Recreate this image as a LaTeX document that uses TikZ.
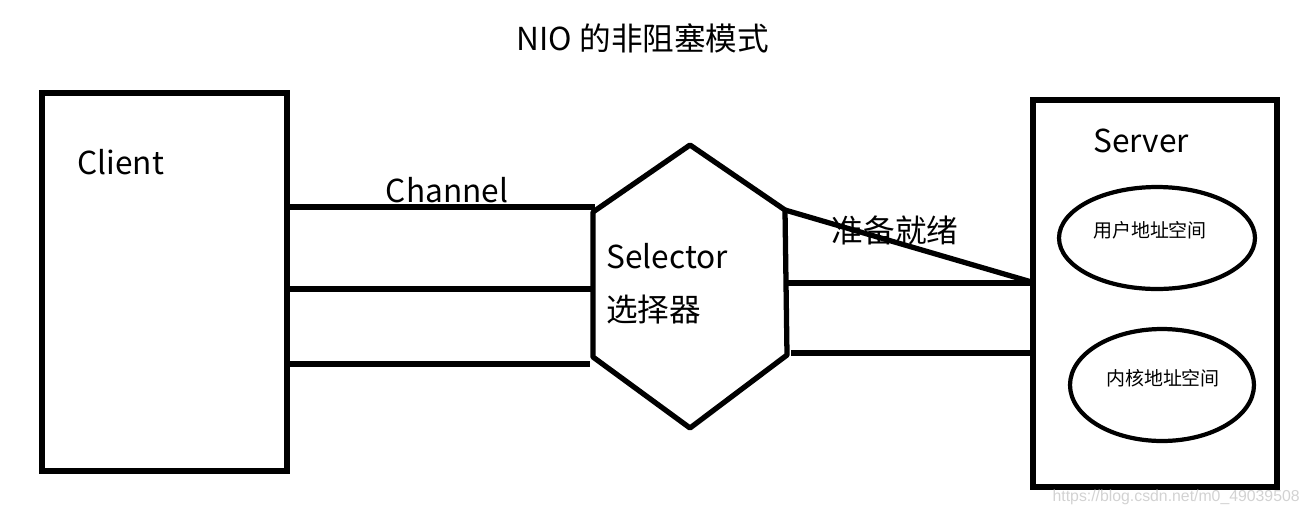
\documentclass[tikz,border=0pt]{standalone}
\usepackage{fontspec}
\setmainfont{Noto Sans CJK SC}
\newfontfamily\markfont{Liberation Sans}
\usetikzlibrary{positioning,shapes.geometric}
\tikzset{
  box/.style={draw,line width=3pt,inner sep=0pt},
  wire/.style={line width=3pt,line join=round},
  space/.style={draw,ellipse,line width=2.4pt,inner sep=0pt,font=\fontsize{10.8}{12}\selectfont},
  txt/.style={inner sep=0pt,font=\fontsize{18}{20}\selectfont}
}
\begin{document}
\begin{tikzpicture}[x=0.02cm,y=-0.02cm]
\useasboundingbox (0,0) rectangle (1309,515);
\node[txt] (title) at (643,38) {NIO 的非阻塞模式};
% client and server
\node[box,minimum width=4.9cm,minimum height=7.56cm] (client) at (164.5,282) {};
\node[box,minimum width=4.88cm,minimum height=7.74cm] (server) at (1155,293.5) {};
\node[txt,anchor=west] (clienttxt) at (77,162) {Client};
\node[txt] (servertxt) at (1141,141) {Server};
\node[space,minimum width=3.92cm,minimum height=2.04cm] (user) at (1157,238) {};
\node[space,minimum width=3.68cm,minimum height=2.24cm] (kernel) at (1162,385) {};
\node[inner sep=0pt,font=\fontsize{10.8}{12}\selectfont] (usertxt) at (1150,230) {用户地址空间};
\node[inner sep=0pt,font=\fontsize{10.8}{12}\selectfont] (kerneltxt) at (1163,378) {内核地址空间};
% selector
\coordinate (s1) at (690,145);
\coordinate (s2) at (785,210);
\coordinate (s3) at (787,355);
\coordinate (s4) at (690,428);
\coordinate (s5) at (593,357);
\coordinate (s6) at (593,212);
\draw[wire] (s1) -- (s2) -- (s3) -- (s4) -- (s5) -- (s6) -- cycle;
\node[txt,anchor=west] (seltxt) at (606,256) {Selector};
\node[txt,anchor=west] (selcn) at (606,310) {选择器};
% channels
\coordinate (c1) at (595,207);
\coordinate (c2) at (593,289);
\coordinate (c3) at (590,364);
\draw[wire] (c1 -| client.east) -- (c1);
\draw[wire] (c2 -| client.east) -- (c2);
\draw[wire] (c3 -| client.east) -- (c3);
\node[txt] (chantxt) at (447,190) {Channel};
% ready
\coordinate (r1) at (1035,283);
\coordinate (r2) at (1033,353);
\coordinate (r3) at (791,353);
\draw[wire] (s2) -- (r1);
\draw[wire] (s3 |- r1) -- (r1);
\draw[wire] (r3) -- (r2);
\node[txt] (readytxt) at (895,230) {准备就绪};
\node[inner sep=0pt,anchor=east,text=gray!35,font=\markfont\fontsize{9}{10}\selectfont] (mark) at (1300,497) {https://blog.csdn.net/m0\_49039508};
\end{tikzpicture}
\end{document}
